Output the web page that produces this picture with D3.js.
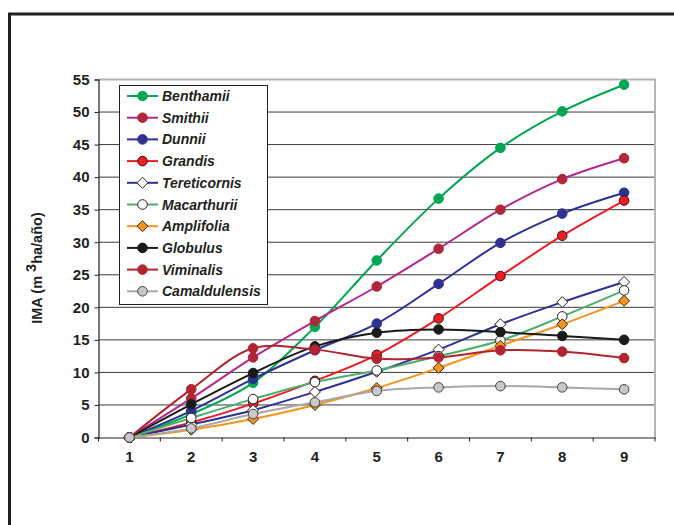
<!DOCTYPE html>
<html><head><meta charset="utf-8">
<script src="https://cdn.jsdelivr.net/npm/d3@7"></script>
<style>body{margin:0;background:#fff}svg{display:block}</style>
</head><body>
<script>
const categories = ["1","2","3","4","5","6","7","8","9"];
const seriesNames = ["Benthamii","Smithii","Dunnii","Grandis","Tereticornis","Macarthurii","Amplifolia","Globulus","Viminalis","Camaldulensis"];
const benthamii     = [0, 3.6, 8.4, 17.0, 27.2, 36.7, 44.5, 50.1, 54.2];
const smithii       = [0, 6.0, 12.3, 17.9, 23.2, 29.0, 35.0, 39.7, 42.9];
const dunnii        = [0, 4.1, 9.0, 13.4, 17.5, 23.6, 29.9, 34.4, 37.6];
const grandis       = [0, 2.3, 5.2, 8.7, 12.7, 18.3, 24.8, 31.0, 36.4];
const tereticornis  = [0, 2.0, 4.2, 7.0, 10.1, 13.5, 17.4, 20.8, 23.9];
const macarthurii   = [0, 3.0, 5.9, 8.5, 10.3, 12.5, 14.9, 18.6, 22.6];
const amplifolia    = [0, 1.2, 2.85, 5.0, 7.6, 10.7, 14.1, 17.4, 21.0];
const globulus      = [0, 5.1, 9.9, 14.0, 16.1, 16.6, 16.2, 15.6, 15.0];
const viminalis     = [0, 7.4, 13.7, 13.5, 12.1, 12.3, 13.4, 13.2, 12.2];
const camaldulensis = [0, 1.4, 3.6, 5.4, 7.15, 7.7, 7.9, 7.7, 7.4];
const yTicks = [0,5,10,15,20,25,30,35,40,45,50,55];
const yLabelParts = ["IMA (m ", "3", "ha/año)"];

const values = [benthamii, smithii, dunnii, grandis, tereticornis, macarthurii, amplifolia, globulus, viminalis, camaldulensis];
const styles = [
  {line:"#00a651", fill:"#00a651", stroke:"#00a651", shape:"circle"},
  {line:"#b5268f", fill:"#b0263a", stroke:"#b0263a", shape:"circle"},
  {line:"#2e3192", fill:"#2e3192", stroke:"#2e3192", shape:"circle"},
  {line:"#ee1c25", fill:"#ee1c25", stroke:"#3a1010", shape:"circle"},
  {line:"#2e3192", fill:"#ffffff", stroke:"#231f20", shape:"diamond"},
  {line:"#4daf6a", fill:"#ffffff", stroke:"#231f20", shape:"circle"},
  {line:"#f7941d", fill:"#f7941d", stroke:"#3a2a10", shape:"diamond"},
  {line:"#1a1a1a", fill:"#1a1a1a", stroke:"#1a1a1a", shape:"circle"},
  {line:"#b0252f", fill:"#b0252f", stroke:"#b0252f", shape:"circle"},
  {line:"#a8a8a8", fill:"#c8c8c8", stroke:"#444444", shape:"circle"}
];

const W = 674, H = 525;
const FONT = "Liberation Sans, Arial, sans-serif";
const svg = d3.select("body").append("svg").attr("width", W).attr("height", H);

// outer frame
svg.append("line").attr("x1",9.5).attr("x2",9.5).attr("y1",13).attr("y2",H).attr("stroke","#231f20").attr("stroke-width",3);
svg.append("line").attr("x1",8).attr("x2",W).attr("y1",14).attr("y2",14).attr("stroke","#231f20").attr("stroke-width",3);

const L = 98.5, R = 655, T = 79.5, B = 437.5;
const x = d3.scaleBand().domain(categories).range([L, R]).padding(0);
const y = d3.scaleLinear().domain([0,55]).range([B, T]);
const cx = c => x(c) + x.bandwidth()/2;

// gridlines
svg.append("g").selectAll("line").data(yTicks.filter(t=>t>0 && t<55)).join("line")
  .attr("x1",L).attr("x2",R).attr("y1",d=>y(d)).attr("y2",d=>y(d))
  .attr("stroke","#3a3a3a").attr("stroke-width",1);
// plot border top/right
svg.append("path").attr("d",`M${L},${y(55)}H${R}V${B}`).attr("fill","none").attr("stroke","#b4b4b4").attr("stroke-width",2);

// y axis
const yAxis = svg.append("g").attr("transform",`translate(${L},0)`)
  .call(d3.axisLeft(y).tickValues(yTicks).tickSize(4).tickPadding(5));
yAxis.select(".domain").attr("stroke","#231f20").attr("stroke-width",1.2);
yAxis.selectAll(".tick line").attr("stroke","#231f20");
yAxis.selectAll("text").attr("font-family",FONT).attr("font-weight","bold").attr("font-size",15).attr("fill","#231f20");

// x axis
const xAxis = svg.append("g").attr("transform",`translate(0,${B})`)
  .call(d3.axisBottom(x).tickSize(0).tickPadding(14));
xAxis.select(".domain").attr("stroke","#231f20").attr("stroke-width",1.2);
xAxis.selectAll("text").attr("font-family",FONT).attr("font-weight","bold").attr("font-size",15).attr("fill","#231f20");
svg.append("g").selectAll("line").data(categories.map(c=>x(c)).concat([R])).join("line")
  .attr("x1",d=>d).attr("x2",d=>d).attr("y1",B).attr("y2",B+4).attr("stroke","#231f20");

// y label
const yl = svg.append("text").attr("transform",`translate(42,268) rotate(-90)`).attr("text-anchor","middle")
  .attr("font-family",FONT).attr("font-weight","bold").attr("font-size",14.5).attr("fill","#231f20");
yl.append("tspan").text(yLabelParts[0]);
yl.append("tspan").attr("dy",-6).attr("font-size",14.5).text(yLabelParts[1]);
yl.append("tspan").attr("dy",6).text(yLabelParts[2]);

function marker(g, s, px, py){
  if (s.shape === "diamond") {
    g.append("path").attr("d",`M${px},${py-5.5}L${px+5.5},${py}L${px},${py+5.5}L${px-5.5},${py}Z`)
      .attr("fill",s.fill).attr("stroke",s.stroke).attr("stroke-width",1);
  } else {
    g.append("circle").attr("cx",px).attr("cy",py).attr("r",4.8)
      .attr("fill",s.fill).attr("stroke",s.stroke).attr("stroke-width",1);
  }
}

const line = d3.line().x((d,i)=>cx(categories[i])).y(d=>y(d)).curve(d3.curveCatmullRom.alpha(0.5));
values.forEach((vals,k)=>{
  const s = styles[k];
  const g = svg.append("g");
  g.append("path").attr("d", line(vals)).attr("fill","none").attr("stroke",s.line).attr("stroke-width",2);
  vals.forEach((v,i)=>marker(g, s, cx(categories[i]), y(v)));
});

// legend
const lg = svg.append("g");
lg.append("rect").attr("x",119.5).attr("y",85.5).attr("width",148).attr("height",219).attr("fill","#fff").attr("stroke","#231f20").attr("stroke-width",1);
seriesNames.forEach((n,k)=>{
  const s = styles[k];
  const yy = 96 + k*21.7;
  lg.append("line").attr("x1",127).attr("x2",158).attr("y1",yy).attr("y2",yy).attr("stroke",s.line).attr("stroke-width",2);
  marker(lg, s, 142.5, yy);
  lg.append("text").attr("x",162).attr("y",yy).attr("dy","0.36em")
    .attr("font-family",FONT).attr("font-weight","bold").attr("font-style","italic")
    .attr("font-size",14).attr("fill","#231f20").text(n);
});
</script>
</body></html>
